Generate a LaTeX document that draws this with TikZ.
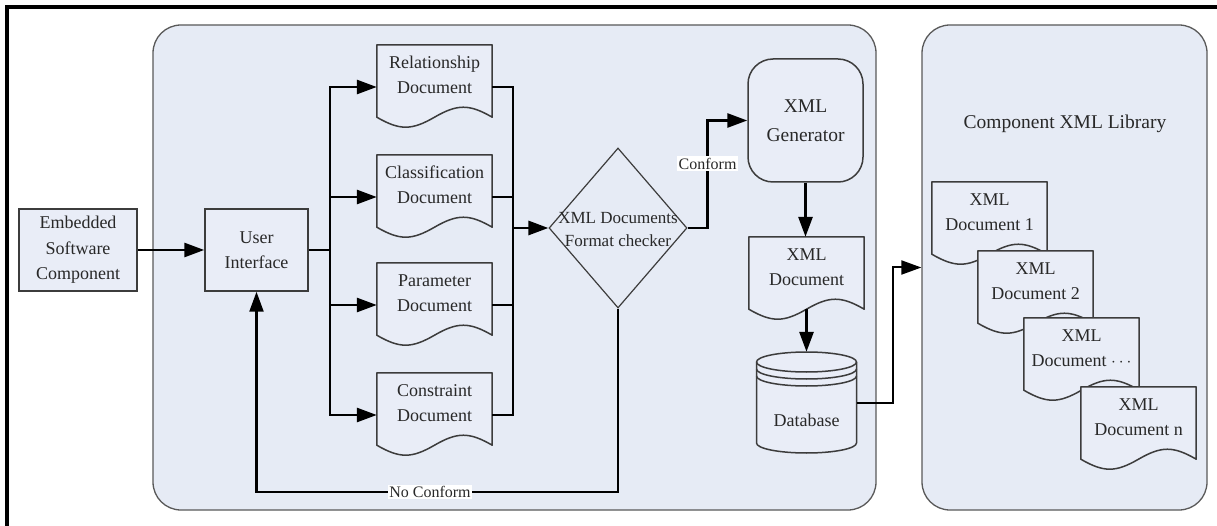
\documentclass[tikz,border=0pt]{standalone}
\usepackage{fontspec}
\setmainfont{Liberation Serif}
\usetikzlibrary{arrows.meta,calc,shapes.geometric}
\pgfdeclarelayer{panels}
\pgfdeclarelayer{shapes}
\pgfsetlayers{panels,shapes,main}

\definecolor{paneFill}{RGB}{230,235,245}
\definecolor{docFill}{RGB}{233,237,247}
\definecolor{edge}{RGB}{60,60,60}
\definecolor{ink}{RGB}{40,40,40}

% document symbol: straight top and sides, one sine period along the bottom
\newcommand\docoutline[1]{%
  \begin{pgfonlayer}{shapes}
    \filldraw[docline] (#1.north west) -- (#1.north east)
      -- ($(#1.south east)+(0,12)$)
      .. controls +(-23,-13.3) and +(23,-13.3) .. ($(#1.south)+(0,12)$)
      .. controls +(-23,13.3) and +(23,13.3) .. ($(#1.south west)+(0,12)$)
      -- cycle;
  \end{pgfonlayer}}

% database drum with two extra rings under the lid
\newcommand\dbshape[1]{%
  \begin{pgfonlayer}{shapes}
    \filldraw[docline] ($(#1.center)+(-50,-40.5)$) -- ($(#1.center)+(-50,40.5)$)
      arc[start angle=180,end angle=360,x radius=50pt,y radius=10pt]
      -- ($(#1.center)+(50,-40.5)$)
      arc[start angle=0,end angle=180,x radius=50pt,y radius=10pt] -- cycle;
    \foreach \dy in {-40.5,-33.5,-26.5}
      \draw[docline,fill=none] ($(#1.center)+(-50,\dy)$)
        arc[start angle=180,end angle=360,x radius=50pt,y radius=10pt];
  \end{pgfonlayer}}

\tikzset{
  base/.style={font=\fontsize{18pt}{25.5pt}\selectfont, text=ink, align=center, inner sep=0pt},
  panel/.style={draw=edge!85, line width=1.3pt, fill=paneFill, rounded corners=28pt},
  box/.style={base, rectangle, draw=edge, line width=1.5pt, fill=docFill},
  doctext/.style={base, minimum width=115pt, minimum height=60pt},
  docline/.style={draw=edge, line width=1.5pt, fill=docFill, line join=round},
  conn/.style={draw=black, line width=2.8pt, line join=miter},
  arr/.style={conn, -{Triangle[length=20pt,width=14pt]}},
  lbl/.style={font=\fontsize{16pt}{18pt}\selectfont, text=ink, fill=white, inner sep=1.5pt},
}

\begin{document}
\begin{tikzpicture}[x=1pt,y=-1pt]
\useasboundingbox (0,0) rectangle (1217,526);

% frame
\draw[line width=3.5pt, black] (7,526) -- (7,7) -- (1217,7);

% the two panels
\begin{pgfonlayer}{panels}
  \node[panel, minimum width=723pt, minimum height=485pt] (tool) at (514.5,267.5) {};
  \node[panel, minimum width=285pt, minimum height=485pt] (lib) at (1064.5,267.5) {};
\end{pgfonlayer}

% input and user interface
\node[box, minimum width=118pt, minimum height=82pt] (emb) at (78,250) {Embedded\\Software\\Component};
\node[box, minimum width=103pt, minimum height=82pt] (ui) at (256.5,250) {User\\Interface};

% the four description documents
\node[doctext] (rel) at (434.5,75)  {Relationship\\Document};
\node[doctext] (cls) at (434.5,185) {Classification\\Document};
\node[doctext] (par) at (434.5,293) {Parameter\\Document};
\node[doctext] (con) at (434.5,403) {Constraint\\Document};
\foreach \nm in {rel,cls,par,con} {
  \docoutline{\nm}
  \coordinate (\nm-in)  at ($(\nm.west)+(0,12)$);
  \coordinate (\nm-out) at ($(\nm.east)+(0,12)$);
}

% format checker
\node[diamond, draw=edge, line width=1.2pt, fill=paneFill, minimum width=138pt,
      minimum height=160pt, inner sep=0pt, text=ink,
      font=\fontsize{17pt}{23pt}\selectfont] (chk) at (618,228)
  {\smash{\makebox[0pt]{\raisebox{-6.5pt}{\begin{tabular}{@{}c@{}}XML Documents\\Format checker\end{tabular}}}}};

% generator, output document, database
\node[box, rounded corners=25pt, minimum width=115pt, minimum height=123pt,
      font=\fontsize{19.5pt}{29pt}\selectfont] (gen) at (805.5,120.5) {XML\\Generator};
\node[doctext] (xdoc) at (806.5,267) {XML\\Document};
\docoutline{xdoc}
\node[base, minimum width=100pt, minimum height=101pt, text height=47pt, text depth=0pt] (db) at (806.5,402.5) {Database};
\dbshape{db}

% library contents
\node[base, font=\fontsize{19.5pt}{22pt}\selectfont] (libtitle) at (1065,124) {Component XML Library};
\node[doctext] (d1) at (989.5,212)  {XML\\Document 1};
\docoutline{d1}
\node[doctext] (d2) at (1035.5,281) {XML\\Document 2};
\docoutline{d2}
\node[doctext] (d3) at (1081.5,348) {XML\\Document $\cdots$};
\docoutline{d3}
\node[doctext] (dn) at (1138.5,417) {XML\\Document n};
\docoutline{dn}

% connectors
\coordinate (trunk) at (330,0);
\coordinate (collect) at (513,0);
\coordinate (fb) at (0,492);

\draw[arr] (emb.east) -- (ui.west);
\draw[conn] (ui.east) -- (ui.east -| trunk);
\draw[conn, line cap=rect] (rel-in -| trunk) -- (con-in -| trunk);
\foreach \nm in {rel,cls,par,con} {
  \draw[arr] (\nm-in -| trunk) -- (\nm-in);
  \draw[conn] (\nm-out) -- (\nm-out -| collect);
}
\draw[conn, line cap=rect] (rel-out -| collect) -- (con-out -| collect);
\draw[arr] (chk.west -| collect) -- (chk.west);

\draw[arr] (chk.east) -- ++(20,0) |- node[lbl, pos=0.3] {Conform} (gen.west);
\draw[arr, line width=2.3pt] (chk.south) -- (chk.south |- fb)
  -- node[lbl, pos=0.52] {No Conform} (ui.south |- fb) -- (ui.south);

\draw[arr] (gen.south) -- (gen.south |- xdoc.north);
\draw[arr] ($(xdoc.south)+(0,12)$) -- (db.north);
\draw[arr, line width=2pt] (db.east) -| ($(lib.west)+(-28,0)$) -- (lib.west);
\end{tikzpicture}
\end{document}
